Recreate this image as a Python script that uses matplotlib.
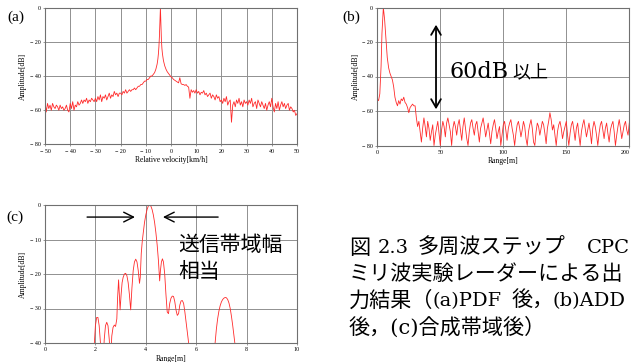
import numpy as np
import matplotlib
matplotlib.use('Agg')
import matplotlib.pyplot as plt

plt.rcParams['font.family'] = ['Liberation Serif', 'Noto Sans CJK JP']

# ---- (a) Doppler spectrum after PDF ----
a_left_db = [-55, -61, -56, -59, -57, -60, -56, -58, -59, -57,
             -58, -60, -57, -59, -58, -60, -59, -57, -60, -61,
             -56, -59, -55, -60, -57, -58, -55, -57, -56, -54,
             -56, -54, -55, -53, -56, -54, -55, -53, -54, -55,
             -53, -55, -52, -54, -51, -55, -52, -53, -51, -54,
             -52, -50, -53, -51, -52, -49, -51, -50, -52, -50,
             -50, -51, -49, -50, -48, -50, -49, -48, -49, -48,
             -48, -47, -48, -47, -46, -46, -45, -45, -44, -43,
             -43, -42, -42, -41, -40]
a_peak_x = [-7.5, -7.0, -6.5, -6.0, -5.5, -5.2, -5.0, -4.8, -4.6, -4.4, -4.3, -4.2,
            -4.1, -4.0, -3.8, -3.6, -3.4, -3.2, -3.0, -2.5, -2.0, -1.5, -1.0, -0.5]
a_peak_db = [-40, -39, -38, -36, -33, -30, -27, -23, -17, -9, -4, 0,
             -5, -11, -19, -24, -27, -29, -31, -34, -36, -37.5, -38.5, -39.5]
a_right_db = [-40.5, -41, -42, -42.5, -43, -43.5, -44, -41, -44.5, -45,
              -45, -45.5, -45, -46, -46.5, -53, -48, -49.5, -48.5, -50,
              -48, -50, -49, -51, -49.5, -50, -48.5, -51, -50, -52,
              -51, -50, -53, -51, -52, -54, -51, -53, -52, -55,
              -54, -56, -53, -55, -52, -57, -55, -54, -67, -57,
              -55, -58, -54, -56, -53, -57, -55, -58, -54, -56,
              -55, -57, -54, -56, -53, -58, -56, -55, -59, -54,
              -56, -58, -55, -57, -59, -56, -60, -57, -55, -58,
              -53, -58, -61, -56, -59, -55, -60, -57, -55, -58,
              -56, -59, -57, -56, -60, -58, -59, -61, -60, -63,
              -62]

# ---- (b) range profile after ADD ----
b_near_x = [0, 1, 2, 3, 3.7, 4.8, 5.8, 6.9, 7.9, 9, 10, 11, 12, 13, 14, 15, 16,
            17, 18, 19, 20, 21, 22, 23, 24, 25, 26, 27, 28, 29, 30, 31, 32]
b_near_db = [-53, -54, -50, -34, -15, 0, -7, -19, -29, -35, -38, -40, -42, -46, -52, -55, -57,
             -54, -56, -53, -54, -52, -55, -56, -58, -61, -58, -57, -56, -57, -57, -64, -69]
b_noise_db = [-66, -72, -78, -70, -64, -69, -75, -66, -70, -77,
              -72, -68, -80, -74, -70, -66, -73, -80, -71, -66,
              -69, -75, -67, -64, -68, -72, -80, -70, -66, -69,
              -74, -68, -65, -71, -77, -69, -64, -70, -76, -80,
              -72, -67, -65, -70, -74, -68, -66, -72, -78, -70,
              -67, -64, -69, -75, -71, -67, -73, -79, -72, -68,
              -65, -70, -76, -72, -69, -80, -74, -68, -66, -71,
              -77, -70, -67, -65, -70, -74, -80, -73, -68, -66,
              -70, -75, -71, -66, -69, -76, -80, -72, -68, -65,
              -70, -78, -80, -72, -67, -69, -74, -70, -66, -68,
              -73, -79, -70, -66, -61, -65, -71, -68, -74, -80,
              -72, -68, -66, -70, -76, -72, -69, -66, -74, -80,
              -73, -68, -66, -71, -77, -70, -67, -74, -80, -72,
              -68, -65, -70, -75, -71, -67, -72, -79, -70, -66,
              -69, -74, -80, -73, -68, -66, -71, -76, -70, -67,
              -73, -78, -71, -68, -66, -72, -80, -74, -69, -65,
              -70, -76, -72, -68, -66, -71, -74, -67]

# ---- (c) range profile after band synthesis ----
c_main_x = [1.90, 1.95, 2.00, 2.05, 2.10, 2.15, 2.20, 2.25, 2.30, 2.35, 2.40, 2.45,
            2.50, 2.55, 2.60, 2.65, 2.70, 2.75, 2.80, 2.85, 2.88, 2.92, 2.95, 2.98,
            3.02, 3.06, 3.10, 3.15, 3.20, 3.25, 3.30, 3.35, 3.40, 3.45, 3.50, 3.55,
            3.60, 3.65, 3.70, 3.75, 3.78, 3.82, 3.86, 3.90, 3.95, 4.00, 4.05, 4.10,
            4.15, 4.20, 4.25, 4.30, 4.35, 4.40, 4.45, 4.50, 4.55, 4.58, 4.62, 4.66,
            4.70, 4.75, 4.80, 4.85, 4.90, 4.95, 5.00, 5.05, 5.10, 5.15, 5.20, 5.25,
            5.30, 5.35, 5.40, 5.45, 5.50, 5.55, 5.60, 5.65, 5.70, 5.75]
c_main_db = [-48, -41, -35, -32.6, -32.6, -35, -40, -47, -47, -39, -35, -34,
             -35, -39, -46, -38, -35.5, -34.8, -35.2, -33, -27, -21.7, -26, -30.4,
             -26, -22.5, -21, -20, -19.8, -20.5, -22.5, -26, -30.4, -24, -19, -16.5,
             -15.7, -16.5, -19, -22.7, -21, -14, -10.5, -8, -5, -2.9, -1.3, -0.3,
             0, -0.3, -1.3, -2.9, -5.1, -8, -11.5, -16, -22, -19, -16.5, -15.6,
             -16.5, -20, -26, -31, -31.5, -28.5, -27, -26.4, -26.5, -28, -30.5, -32,
             -31.5, -29, -27.8, -27.7, -28.5, -31, -34, -37, -40, -44]
c_far_x = [6.70, 6.75, 6.80, 6.85, 6.90, 6.95, 7.00, 7.05, 7.10, 7.15,
           7.20, 7.25, 7.30, 7.35, 7.40, 7.45, 7.50, 7.55, 7.60]
c_far_db = [-45, -40, -36, -33, -30.8, -29.2, -28.1, -27.4, -27.0, -26.8,
            -26.9, -27.4, -28.4, -30, -32.3, -35, -38, -41, -45]

a_xticks = [-50, -40, -30, -20, -10, 0, 10, 20, 30, 40, 50]
a_xlabels = ['− 50', '− 40', '− 30', '− 20', '− 10', '0', '10', '20', '30', '40', '50']
db80_ticks = [0, -20, -40, -60, -80]
db80_labels = ['0', '− 20', '− 40', '− 60', '− 80']
b_xticks = [0, 50, 100, 150, 200]
b_xlabels = ['0', '50', '100', '150', '200']
c_xticks = [0, 2, 4, 6, 8, 10]
c_xlabels = ['0', '2', '4', '6', '8', '10']
c_yticks = [0, -10, -20, -30, -40]
c_ylabels = ['0', '− 10', '− 20', '− 30', '− 40']

# caption, split into pieces so each line fills the column like the typeset original
# (text, left pixel, font size)
caption_lines = [
    [('図', 349, 15.2), ('2.3', 378, 14), ('多周波ステップ', 418, 15.2), ('CPC', 587, 14)],
    [('ミリ波実験レーダーによる出', 349, 15.2)],
    [('力結果（', 349, 15.2), ('(a)PDF', 432, 14), ('後，', 512, 15.2), ('(b)ADD', 553, 14)],
    [('後，(c)合成帯域後）', 349, 15.2)],
]

W, H = 632, 362
fig = plt.figure(figsize=(W / 100, H / 100), dpi=100)
SERIF_JP = ['DejaVu Serif', 'Noto Sans CJK JP']


def px_axes(left, top, right, bottom):
    return fig.add_axes([left / W, 1 - bottom / H, (right - left) / W, (bottom - top) / H])


def style(ax, xt, xl, yt, yl, xlim, ylim, xlabel):
    ax.set_xlim(*xlim)
    ax.set_ylim(*ylim)
    ax.set_xticks(xt)
    ax.set_xticklabels(xl)
    ax.set_yticks(yt)
    ax.set_yticklabels(yl)
    ax.grid(color='#909090', lw=0.7)
    ax.set_axisbelow(True)
    for s in ax.spines.values():
        s.set_color('#707070')
        s.set_linewidth(0.8)
    ax.tick_params(labelsize=4.3, length=1.5, width=0.5, color='#707070', pad=1.5)
    ax.set_xlabel(xlabel, fontsize=5.5, labelpad=2)
    ax.set_ylabel('Amplitude[dB]', fontsize=5.5, labelpad=2)


line_kw = dict(color='#ff2a2a', lw=0.6)

# (a)
ax_a = px_axes(45, 7.5, 297, 144.5)
a_x = np.concatenate([np.linspace(-50, -8, len(a_left_db)), a_peak_x,
                      np.linspace(0, 50, len(a_right_db))])
a_y = np.concatenate([a_left_db, a_peak_db, a_right_db])
ax_a.plot(a_x, a_y, **line_kw)
style(ax_a, a_xticks, a_xlabels, db80_ticks, db80_labels, (-50, 50), (-80, 0),
      'Relative velocity[km/h]')

# (b)
ax_b = px_axes(377.3, 7.5, 629.3, 145.5)
b_x = np.concatenate([b_near_x, np.linspace(33, 200, len(b_noise_db))])
b_y = np.concatenate([b_near_db, b_noise_db])
ax_b.plot(b_x, b_y, **line_kw)
style(ax_b, b_xticks, b_xlabels, db80_ticks, db80_labels, (0, 200), (-80, 0), 'Range[m]')
ax_b.get_xticklabels()[-1].set_horizontalalignment('right')  # keep "200" inside the canvas
ax_b.annotate('', xy=(46.6, -10), xytext=(46.6, -59),
              arrowprops=dict(arrowstyle='<->,head_length=0.6,head_width=0.35',
                              color='black', lw=1.3, shrinkA=0, shrinkB=0))
ax_b.text(57.5, -37.5, '60dB', fontsize=16, va='center', ha='left', family=SERIF_JP)
ax_b.text(107, -37.5, '以上', fontsize=13, va='center', ha='left',
          family=['Noto Sans CJK JP'])

# (c)
ax_c = px_axes(45, 205, 297, 343)
ax_c.plot(c_main_x, c_main_db, **line_kw)
ax_c.plot(c_far_x, c_far_db, **line_kw)
style(ax_c, c_xticks, c_xlabels, c_yticks, c_ylabels, (0, 10), (-40, 0), 'Range[m]')
arrow_kw = dict(arrowstyle='->,head_length=0.7,head_width=0.35', color='black', lw=1.0,
                shrinkA=0, shrinkB=0)
ax_c.annotate('', xy=(3.57, -3.5), xytext=(1.67, -3.5), arrowprops=arrow_kw)
ax_c.annotate('', xy=(4.68, -3.5), xytext=(6.87, -3.5), arrowprops=arrow_kw)
ax_c.text(5.28, -11.6, '送信帯域幅', fontsize=15, va='center', ha='left',
          family=['Noto Sans CJK JP'])
ax_c.text(5.28, -19.4, '相当', fontsize=15, va='center', ha='left',
          family=['Noto Sans CJK JP'])

# panel letters
fig.text(16 / W, 1 - 17 / H, '(a)', fontsize=11, ha='center', va='center')
fig.text(351 / W, 1 - 17 / H, '(b)', fontsize=11, ha='center', va='center')
fig.text(15 / W, 1 - 217 / H, '(c)', fontsize=11, ha='center', va='center')

# caption
for i, pieces in enumerate(caption_lines):
    for txt, xpx, fs in pieces:
        fig.text(xpx / W, 1 - (248 + 26.5 * i) / H, txt, fontsize=fs,
                 ha='left', va='center', family=SERIF_JP)

fig.savefig('out.png', dpi=100)
